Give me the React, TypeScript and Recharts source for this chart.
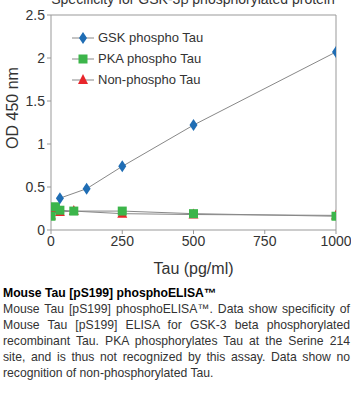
import { LineChart, Line, XAxis, YAxis, ReferenceLine } from 'recharts';

const gskConc = [31.25, 125, 250, 500, 1000];
const gskOD = [0.37, 0.48, 0.74, 1.22, 2.07];

const ctrlConc = [0, 15.6, 31.25, 80, 250, 500, 1000];
const pkaOD = [0.16, 0.27, 0.23, 0.22, 0.22, 0.19, 0.16];
const nonOD = [0.17, 0.24, 0.21, 0.22, 0.19, 0.18, 0.17];

const xTicks = [0, 250, 500, 750, 1000];
const yTicks = [0, 0.5, 1, 1.5, 2, 2.5];

const FONT = 'Liberation Sans, Arial, sans-serif';

const SERIES = [
  { name: 'GSK phospho Tau', color: '#1f6db4', shape: 'diamond' },
  { name: 'PKA phospho Tau', color: '#3cb54a', shape: 'square' },
  { name: 'Non-phospho Tau', color: '#e8262b', shape: 'triangle' },
];

const gskData = gskConc.map((x, i) => ({ x, y: gskOD[i] }));
const pkaData = ctrlConc.map((x, i) => ({ x, y: pkaOD[i] }));
const nonData = ctrlConc.map((x, i) => ({ x, y: nonOD[i] }));

function Marker({ cx, cy, shape, color }: { cx: number; cy: number; shape: string; color: string }) {
  if (cx == null || cy == null) return null;
  if (shape === 'diamond') {
    return <polygon points={`${cx},${cy - 6} ${cx + 4},${cy} ${cx},${cy + 6} ${cx - 4},${cy}`} fill={color} />;
  }
  if (shape === 'square') {
    return <rect x={cx - 4.5} y={cy - 4.5} width={9} height={9} fill={color} />;
  }
  return <polygon points={`${cx},${cy - 6} ${cx + 5},${cy + 4} ${cx - 5},${cy + 4}`} fill={color} />;
}

const dotFor = (shape: string, color: string) => (props: any) => (
  <Marker key={`${shape}-${props.index}`} cx={props.cx} cy={props.cy} shape={shape} color={color} />
);

function LegendBox() {
  return (
    <div style={{ position: 'absolute', left: 70, top: 27, fontFamily: FONT, fontSize: 13, color: '#333' }}>
      {SERIES.map((s) => (
        <div key={s.name} style={{ display: 'flex', alignItems: 'center', height: 21 }}>
          <svg width={26} height={16}>
            <line x1={2} y1={8} x2={24} y2={8} stroke="#888" strokeWidth={1} />
            <Marker cx={13} cy={8} shape={s.shape} color={s.color} />
          </svg>
          <span style={{ marginLeft: 2 }}>{s.name}</span>
        </div>
      ))}
    </div>
  );
}

const YLabel = () => {
  const cy = 108;
  return (
    <text x={12} y={cy} transform={`rotate(-90 12 ${cy})`} textAnchor="middle" dominantBaseline="central" fill="#333" fontSize={16} fontFamily={FONT}>
      OD 450 nm
    </text>
  );
};

export default function App() {
  return (
    <div style={{ position: 'absolute', left: 0, top: 0, width: 351, height: 419, overflow: 'hidden', background: '#fff' }}>
      <div
        style={{
          position: 'absolute',
          top: -9,
          left: 0,
          width: 386,
          textAlign: 'center',
          fontFamily: FONT,
          fontSize: 14,
          color: '#333',
        }}
      >
        Specificity for GSK-3β phosphorylated protein
      </div>
      <div style={{ position: 'absolute', left: 0, top: 0 }}>
        <LineChart width={351} height={280} margin={{ top: 15, right: 15, left: 0, bottom: 0 }}>
          <XAxis
            dataKey="x"
            type="number"
            domain={[0, 1000]}
            ticks={xTicks}
            allowDataOverflow
            stroke="#999"
            tickSize={4}
            tick={{ fill: '#333', fontSize: 14, fontFamily: FONT }}
            height={50}
            label={{ value: 'Tau (pg/ml)', position: 'insideBottom', offset: 6, fill: '#333', fontSize: 16, fontFamily: FONT }}
          />
          <YAxis
            type="number"
            domain={[0, 2.5]}
            ticks={yTicks}
            stroke="#999"
            tickSize={4}
            width={51}
            tick={{ fill: '#333', fontSize: 14, fontFamily: FONT }}
            label={<YLabel />}
          />
          <ReferenceLine y={2.5} stroke="#999" />
          <ReferenceLine x={1000} stroke="#999" />
          <Line data={nonData} dataKey="y" stroke="#888" strokeWidth={1} isAnimationActive={false} dot={dotFor('triangle', '#e8262b')} activeDot={false} legendType="none" />
          <Line data={pkaData} dataKey="y" stroke="#888" strokeWidth={1} isAnimationActive={false} dot={dotFor('square', '#3cb54a')} activeDot={false} legendType="none" />
          <Line data={gskData} dataKey="y" stroke="#888" strokeWidth={1} isAnimationActive={false} dot={dotFor('diamond', '#1f6db4')} activeDot={false} legendType="none" />
        </LineChart>
      </div>
      <LegendBox />
      <div
        style={{
          position: 'absolute',
          top: 285,
          left: 3,
          width: 347,
          fontFamily: FONT,
          fontSize: 12.2,
          lineHeight: '16px',
          color: '#333',
          textAlign: 'justify',
        }}
      >
        <div style={{ fontWeight: 'bold', color: '#000' }}>Mouse Tau [pS199] phosphoELISA™</div>
        <div>
          Mouse Tau [pS199] phosphoELISA™. Data show specificity of Mouse Tau [pS199] ELISA for GSK-3 beta phosphorylated
          recombinant Tau. PKA phosphorylates Tau at the Serine 214 site, and is thus not recognized by this assay. Data show no
          recognition of non-phosphorylated Tau.
        </div>
      </div>
    </div>
  );
}
